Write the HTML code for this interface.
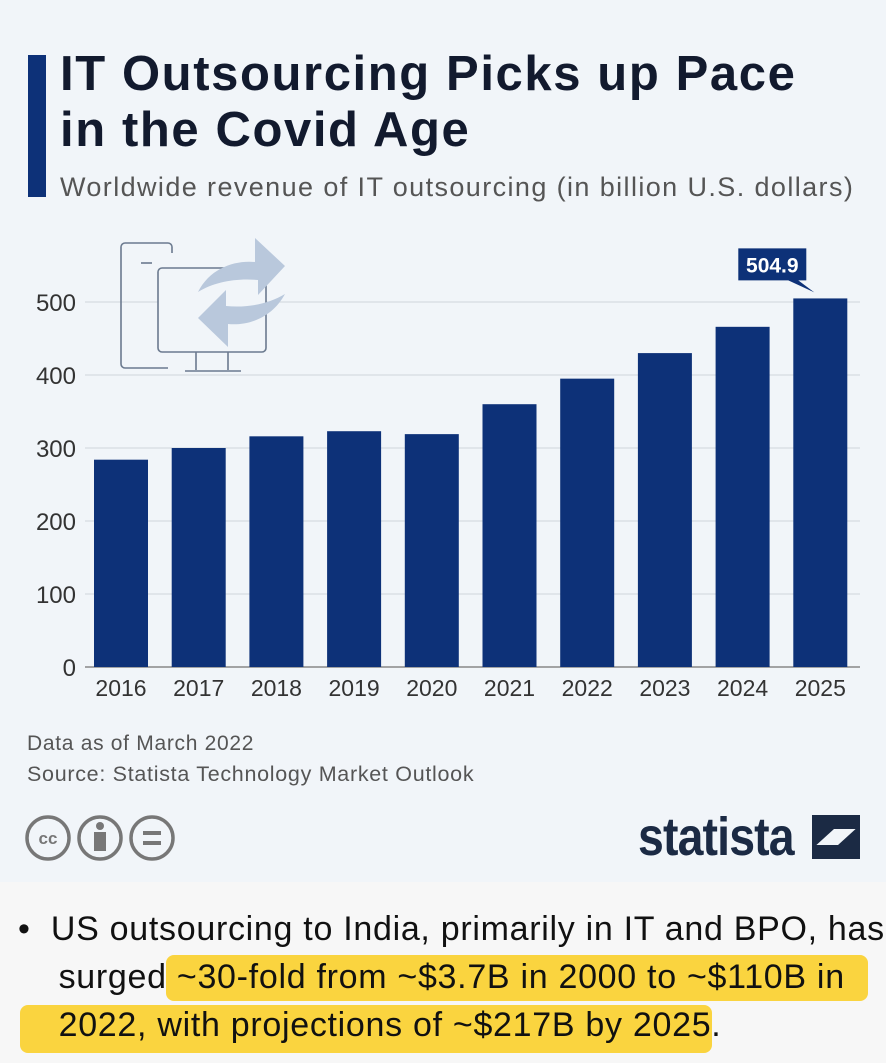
<!DOCTYPE html>
<html><head><meta charset="utf-8"><style>
body{margin:0;width:886px;height:1063px;overflow:hidden;font-family:"Liberation Sans",sans-serif;background:#f7f7f7;position:relative}
#card{position:absolute;left:0;top:0;width:886px;height:882px;background:#f1f5f9}
.t{position:absolute;white-space:nowrap}
</style></head><body>
<div id="card">
<div class="t" style="left:28px;top:55px;width:18px;height:142px;background:#0d3178"></div>
<div class="t" style="left:60px;top:46px;font-size:49px;font-weight:bold;color:#121a2e;line-height:56px;letter-spacing:1.6px">IT Outsourcing Picks up Pace<br>in the Covid Age</div>
<div class="t" style="left:60px;top:172px;font-size:27px;color:#555;letter-spacing:1.4px">Worldwide revenue of IT outsourcing (in billion U.S. dollars)</div>
<svg id="chart" width="886" height="720" style="position:absolute;left:0;top:0"></svg>
<div class="t" style="left:27px;top:732px;font-size:21px;color:#555;letter-spacing:0.7px">Data as of March 2022</div>
<div class="t" style="left:27px;top:762px;font-size:21.5px;color:#555;letter-spacing:0.7px">Source: Statista Technology Market Outlook</div>
<svg width="170" height="56" style="position:absolute;left:22px;top:810px">
<g fill="none" stroke="#777" stroke-width="3.5"><circle cx="26" cy="28" r="21"/><circle cx="78" cy="28" r="21"/><circle cx="130" cy="28" r="21"/></g>
<text x="26" y="34" font-size="17" font-weight="bold" text-anchor="middle" fill="#777">cc</text>
<circle cx="78" cy="16" r="4" fill="#777"/><rect x="72" y="22" width="12" height="19" fill="#777"/>
<rect x="121" y="21" width="18" height="4" fill="#777"/><rect x="121" y="31" width="18" height="4" fill="#777"/>
</svg>
<div class="t" style="left:638px;top:806px;font-size:54px;font-weight:bold;color:#1b2a44;letter-spacing:-1px;transform:scaleX(0.86);transform-origin:left">statista</div>
<svg width="48" height="44" style="position:absolute;left:812px;top:815px"><path d="M0 0H48V14H22L0 34Z M48 10V44H0V30H26Z" fill="#1b2a44"/></svg>
</div>
<svg width="886" height="181" style="position:absolute;left:0;top:882px">
<rect x="166" y="73" width="702" height="46" rx="8" fill="#f9cf2a" opacity="0.9"/>
<rect x="20" y="123" width="692" height="48" rx="8" fill="#f9cf2a" opacity="0.9"/>
</svg>
<div class="t" style="left:18px;top:905px;font-size:34px;line-height:48px;color:#111;letter-spacing:0.7px">•&nbsp;&nbsp;US outsourcing to India, primarily in IT and BPO, has<br>&nbsp;&nbsp;&nbsp;&nbsp;surged ~30-fold from ~$3.7B in 2000 to ~$110B in<br>&nbsp;&nbsp;&nbsp;&nbsp;2022, with projections of ~$217B by 2025.</div>
<script>
const categories=["2016","2017","2018","2019","2020","2021","2022","2023","2024","2025"];
const values=[284,300,316,323,319,360,395,430,466,504.9];
const yTicks=[0,100,200,300,400,500];
const NS="http://www.w3.org/2000/svg";
const svg=document.getElementById('chart');
const y0=667,pxPer=0.73,xStart=94,step=77.7,bw=54;
const Y=v=>y0-v*pxPer;
const X=i=>xStart+i*step;
function mk(t,a){const e=document.createElementNS(NS,t);for(const k in a)e.setAttribute(k,a[k]);svg.appendChild(e);return e;}
yTicks.forEach(v=>{
 const l=mk('line',{x1:85,x2:860,y1:Y(v),y2:Y(v),stroke:v===0?'#888':'#cfd5dc','stroke-width':v===0?1.5:1});
 
 
 const t=mk('text',{x:76,y:Y(v)+9,'text-anchor':'end','font-size':24,fill:'#333'});
 t.textContent=v;
 
 
});
const ic=mk('g',{fill:'none',stroke:'#6b7a8f','stroke-width':1.6});


ic.innerHTML='<path d="M168 368H125a4 4 0 0 1-4-4V247a4 4 0 0 1 4-4h43a4 4 0 0 1 4 4v6"/><line x1="141" y1="263" x2="152" y2="263"/><rect x="158" y="268" width="108" height="84" rx="4" fill="#f1f5f9"/><line x1="196" y1="352" x2="196" y2="370"/><line x1="228" y1="352" x2="228" y2="370"/><line x1="185" y1="371" x2="241" y2="371"/>';
const ar=mk('g',{fill:'#b9c8dc'});


ar.innerHTML='<path d="M198 292C210 268 235 260 255 262V238L285 266L258 295V280C236 278 214 282 198 292Z"/><path d="M285 294C272 318 248 326 228 324V347L198 318L226 290V306C248 308 268 304 285 294Z"/>';
categories.forEach((c,i)=>{
 const r=mk('rect',{x:X(i),y:Y(values[i]),width:bw,height:values[i]*pxPer,fill:'#0d3178'});
 
 
 const t=mk('text',{x:X(i)+bw/2,y:696,'text-anchor':'middle','font-size':23,fill:'#333'});
 t.textContent=c;
 
 
});
const li=values.length-1,lv=values[li];
const bx=X(li)-55,by=Y(lv)-50;
const call=mk('path',{d:`M${bx} ${by}h68v32h-8l16 12l-26-12h-50z`,fill:'#0d3178'});


const ct=mk('text',{x:bx+34,y:by+24,'text-anchor':'middle','font-size':21,'font-weight':'bold',fill:'#fff'});
ct.textContent=lv;


</script>
</body></html>
